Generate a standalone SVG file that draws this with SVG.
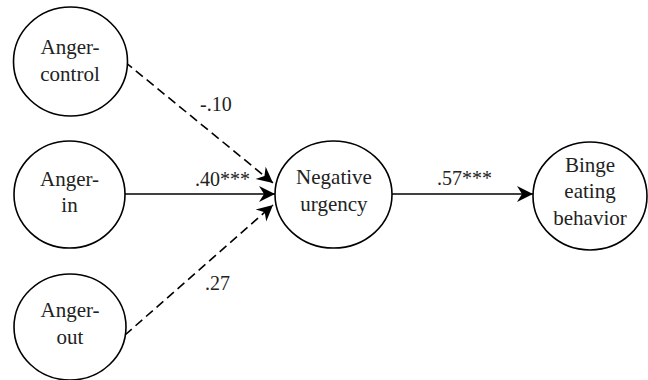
<svg xmlns="http://www.w3.org/2000/svg" width="648" height="380" viewBox="0 0 648 380">
<defs>
<style>
text{font-family:'Liberation Serif','DejaVu Serif','Noto Serif',serif;fill:#222}
.node ellipse{fill:#fff;stroke:#000;stroke-width:1.6}
.node text{font-size:21px;text-anchor:middle}
.lbl{font-size:20px}
.edge{fill:none;stroke:#000;stroke-width:1.6}
.dash{stroke-dasharray:9,5}
</style>
<marker id="arr" markerUnits="userSpaceOnUse" markerWidth="20" markerHeight="20" refX="0" refY="0" viewBox="-18 -10 20 20" orient="auto">
<path d="M0,0 L-16,-8 L-11,0 L-16,8 Z" fill="#000"/>
</marker>
</defs>
<rect width="648" height="380" fill="#fff"/>
<g font-family="Liberation Serif, DejaVu Serif, serif">
<g id="connectors">
<line class="edge dash" x1="125" y1="62" x2="273" y2="183" marker-end="url(#arr)"/>
<line class="edge" x1="125" y1="194" x2="275" y2="194" marker-end="url(#arr)"/>
<line class="edge dash" x1="125" y1="335" x2="273" y2="205" marker-end="url(#arr)"/>
<line class="edge" x1="392" y1="194" x2="533" y2="194" marker-end="url(#arr)"/>
<text class="lbl" x="200" y="111">-.10</text>
<text class="lbl" x="195" y="186">.40***</text>
<text class="lbl" x="205" y="290">.27</text>
<text class="lbl" x="437" y="185">.57***</text>
</g>
<g id="anger-control" class="node">
<ellipse cx="70.5" cy="61.5" rx="57" ry="54.5"/>
<text x="70" y="54">Anger-</text>
<text x="70" y="81">control</text>
</g>
<g id="anger-in" class="node">
<ellipse cx="69.5" cy="194.5" rx="55.5" ry="53.5"/>
<text x="69.5" y="186">Anger-</text>
<text x="69.5" y="212">in</text>
</g>
<g id="anger-out" class="node">
<ellipse cx="70" cy="327" rx="56" ry="53"/>
<text x="70" y="317">Anger-</text>
<text x="70" y="344">out</text>
</g>
<g id="negative-urgency" class="node">
<ellipse cx="333.5" cy="194.5" rx="58.5" ry="53.5"/>
<text x="334" y="184">Negative</text>
<text x="334" y="211">urgency</text>
</g>
<g id="binge-eating" class="node">
<ellipse cx="590" cy="196" rx="57" ry="54"/>
<text x="590" y="172">Binge</text>
<text x="590" y="198">eating</text>
<text x="590" y="225">behavior</text>
</g>
</g>
</svg>
